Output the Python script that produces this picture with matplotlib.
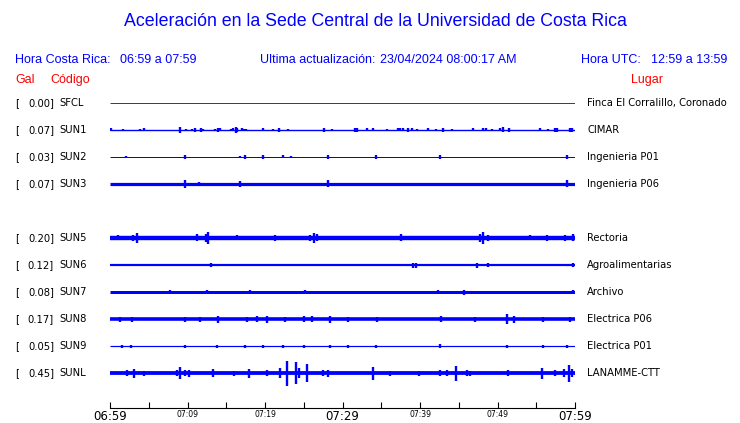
import matplotlib
matplotlib.use("Agg")
import matplotlib.pyplot as plt

# Stations (top to bottom), peak acceleration and site names
codes = ["SFCL", "SUN1", "SUN2", "SUN3", "SUN5", "SUN6", "SUN7", "SUN8", "SUN9", "SUNL"]
gal = [0.00, 0.07, 0.03, 0.07, 0.20, 0.12, 0.08, 0.17, 0.05, 0.45]
places = ["Finca El Corralillo, Coronado", "CIMAR", "Ingenieria P01", "Ingenieria P06",
          "Rectoria", "Agroalimentarias", "Archivo", "Electrica P06", "Electrica P01",
          "LANAMME-CTT"]
rows = [0, 1, 2, 3, 5, 6, 7, 8, 9, 10]  # SUN4 slot left empty

# background noise level of each trace (display units)
noise = [0.5, 0.7, 0.5, 1.6, 2.2, 1.1, 1.5, 1.8, 0.6, 1.9]

# bursts: minutes after 06:59 and amplitude (display units)
burst_t = [
    [],
    [0.1, 1.7, 3.9, 4.4, 9.0, 9.8, 10.6, 11.0, 11.7, 12.0, 13.5, 13.9, 14.2, 15.6, 15.9,
     16.3, 16.4, 17.0, 17.3, 17.5, 19.7, 21.0, 21.8, 23.0, 27.6, 28.6, 31.6, 31.9, 33.2,
     33.9, 35.7, 37.2, 37.4, 37.8, 38.5, 39.0, 39.6, 41.0, 42.1, 43.0, 44.1, 46.8, 48.1,
     48.5, 49.3, 50.3, 50.7, 51.5, 55.5, 56.5, 57.4, 57.7, 59.4, 59.6],
    [2.1, 9.7, 16.8, 17.4, 19.7, 22.3, 23.4, 28.1, 34.3, 42.6, 59.0],
    [9.7, 11.5, 16.8, 28.1, 59.0],
    [1.0, 3.0, 3.5, 11.2, 12.4, 12.6, 16.4, 21.3, 25.8, 26.3, 26.7, 37.5, 47.7, 48.1,
     48.8, 54.2, 56.4, 58.7, 59.7],
    [13.0, 39.1, 39.5, 47.4, 48.8, 59.7],
    [7.7, 12.5, 18.1, 25.2, 42.3, 45.7, 59.7],
    [1.3, 2.8, 9.7, 11.6, 13.9, 17.7, 19.0, 20.3, 22.6, 25.0, 26.1, 28.4, 30.7, 34.5,
     42.7, 47.1, 51.2, 52.1, 55.9, 59.4],
    [1.5, 2.7, 9.7, 13.8, 17.4, 19.7, 22.3, 25.0, 28.4, 30.7, 34.3, 42.6, 51.2, 55.9, 59.0],
    [2.2, 3.1, 4.4, 8.6, 9.0, 9.7, 10.2, 13.3, 16.0, 17.9, 20.3, 21.9, 22.8, 24.0, 24.4,
     25.4, 27.5, 28.1, 33.9, 36.1, 39.9, 42.6, 43.5, 44.6, 46.1, 46.5, 51.4, 55.7, 57.4,
     58.6, 59.2, 59.6],
]
burst_a = [
    [],
    [1.5, 1, 1, 1.5, 3, 1, 1, 2, 2, 1, 1, 2, 1.5, 1, 1.5, 3, 2, 1.5, 1, 1, 1.5, 1, 2, 1,
     2, 1, 2, 2, 1.5, 1.5, 1, 1.5, 1.5, 1.5, 2, 1.5, 1, 1.5, 1, 2, 1, 1.5, 1.5, 1.5, 1,
     1.5, 2.5, 2, 1.5, 1, 2, 2, 2, 2],
    [1, 2, 1, 2, 2, 1.5, 1, 2, 2, 2, 2],
    [4, 2, 3, 3.5, 3.5],
    [2.5, 3, 5, 3.5, 4, 6, 2.5, 3, 3, 5, 3.5, 3.5, 4, 6, 3, 2.5, 3, 3, 3.5],
    [2, 2.5, 2.5, 2.5, 2, 2],
    [2, 2, 2, 2, 2, 2.5, 2],
    [2.5, 2.5, 2.5, 2.5, 3.5, 2.5, 3, 3.5, 2.5, 3, 3, 3.5, 2.5, 2.5, 3, 2.5, 5, 3.5,
     2.5, 2.5],
    [1.5, 1.5, 1.5, 1.5, 1.5, 1.5, 1.5, 1.5, 1.5, 1.5, 1.5, 2, 1.5, 1.5, 1.5],
    [3, 4.5, 2.5, 3, 6, 3, 3.5, 4, 2.5, 4.5, 3, 5, 12.5, 11, 5, 9, 3, 3.5, 6.5, 2.5,
     2.5, 3, 3, 7.5, 3, 2.5, 3, 5.5, 3, 4, 8.5, 4],
]

tick_min = list(range(0, 61, 5))
tick_lab = {0: "06:59", 10: "07:09", 20: "07:19", 30: "07:29", 40: "07:39",
            50: "07:49", 60: "07:59"}

W, H = 740, 423
BLUE = "#0000ff"
RED = "#ff0000"
ROW_PX = 27.0

fig = plt.figure(figsize=(W / 100, H / 100), dpi=100)
fig.patch.set_facecolor("white")


def fx(px):
    return px / W


def fy(py):
    return 1 - py / H


# header texts
hdr = dict(family="Liberation Sans", color=BLUE, va="center")
fig.text(fx(375), fy(22), "Aceleración en la Sede Central de la Universidad de Costa Rica",
         fontsize=12.8, ha="center", **hdr)
fig.text(fx(15), fy(60), "Hora Costa Rica:", fontsize=9, ha="left", **hdr)
fig.text(fx(120), fy(60), "06:59 a 07:59", fontsize=9, ha="left", **hdr)
fig.text(fx(260), fy(60), "Ultima actualización:", fontsize=9, ha="left", **hdr)
fig.text(fx(380), fy(60), "23/04/2024 08:00:17 AM", fontsize=9, ha="left", **hdr)
fig.text(fx(581), fy(60), "Hora UTC:", fontsize=9, ha="left", **hdr)
fig.text(fx(651), fy(60), "12:59 a 13:59", fontsize=9, ha="left", **hdr)

red = dict(family="Liberation Sans", color=RED, va="center", fontsize=9)
fig.text(fx(15), fy(80), "Gal", ha="left", **red)
fig.text(fx(50), fy(80), "Código", ha="left", **red)
fig.text(fx(631), fy(80), "Lugar", ha="left", **red)

# traces axes
top, bot = 103 - ROW_PX / 2, 373 + ROW_PX / 2
ax = fig.add_axes([fx(110), fy(bot), fx(575) - fx(110), fy(top) - fy(bot)])
ax.set_xlim(0, 60)
ax.set_ylim(10.5, -0.5)
ax.axis("off")

for i, code in enumerate(codes):
    r = rows[i]
    color = "#dd0000" if i == 0 else BLUE
    lw = max(noise[i] * 2, 1.0) * 0.72
    ax.hlines(r, 0, 60, color=color, lw=lw)
    if burst_t[i]:
        amp = [a / ROW_PX for a in burst_a[i]]
        ax.vlines(burst_t[i], [r - a for a in amp], [r + a for a in amp],
                  color=color, lw=1.7)
    ypx = 103 + r * ROW_PX
    lab = dict(family="DejaVu Sans", color="black", va="center", fontsize=7.2)
    fig.text(fx(15), fy(ypx), "[", ha="left", **lab)
    fig.text(fx(54), fy(ypx), f"{gal[i]:.2f}]", ha="right", **lab)
    fig.text(fx(59), fy(ypx), code, ha="left", **lab)
    fig.text(fx(587), fy(ypx), places[i], ha="left", **lab)

# time axis
tax = fig.add_axes([fx(110), fy(408), fx(575) - fx(110), 0.0005])
tax.set_xlim(0, 60)
for s in ["top", "left", "right"]:
    tax.spines[s].set_visible(False)
tax.spines["bottom"].set_linewidth(0.8)
tax.set_yticks([])
tax.set_xticks(tick_min)
tax.set_xticklabels([tick_lab.get(m, "") for m in tick_min], family="DejaVu Sans")
tax.tick_params(axis="x", direction="in", length=4.5, width=0.8, pad=1.5)
for m, t in zip(tick_min, tax.get_xticklabels()):
    t.set_fontsize(8.5 if m in (0, 30, 60) else 5.5)

fig.savefig("out.png", dpi=100, facecolor="white")
